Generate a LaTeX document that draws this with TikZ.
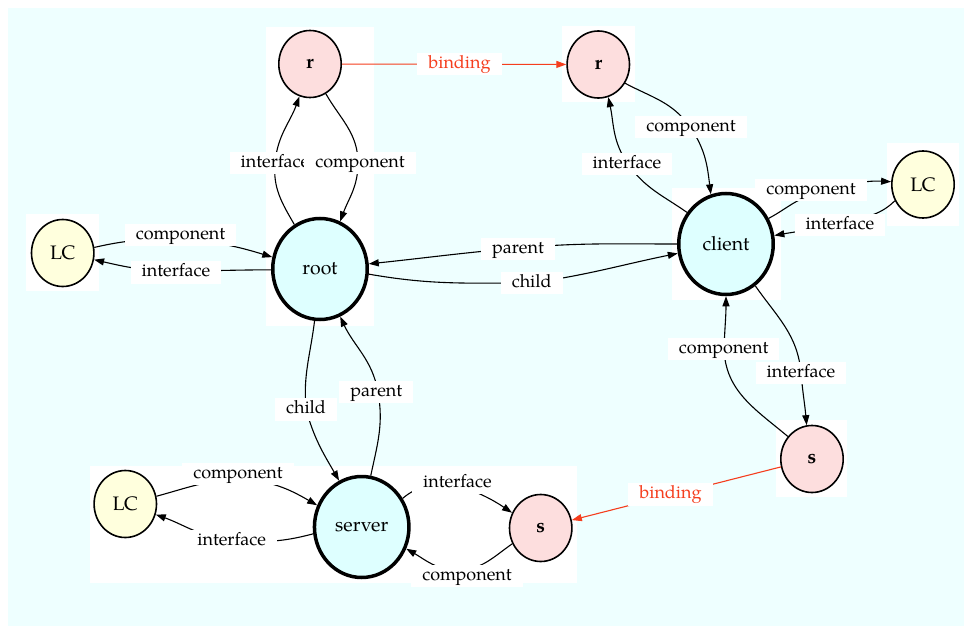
\documentclass[tikz,border=0pt]{standalone}
\usepackage{fontspec}
\setmainfont{TeX Gyre Pagella}
\usetikzlibrary{arrows.meta,shapes.geometric}

\definecolor{bgcyan}{RGB}{238,255,255}
\definecolor{hostfill}{RGB}{222,255,255}
\definecolor{portfill}{RGB}{253,222,222}
\definecolor{lcfill}{RGB}{255,255,221}
\definecolor{bindred}{RGB}{245,62,30}

\tikzset{
  port/.style={ellipse, draw, line width=1.6pt, fill=portfill, inner sep=0pt,
    minimum width=62.4pt, minimum height=67pt, font=\fontsize{19.5}{20}\selectfont\bfseries},
  lcnode/.style={ellipse, draw, line width=1.6pt, fill=lcfill, inner sep=0pt,
    minimum width=62.4pt, minimum height=67pt, font=\fontsize{19.5}{20}\selectfont},
  host/.style={ellipse, draw, line width=3.5pt, fill=hostfill, inner sep=0pt,
    minimum width=94.5pt, minimum height=101pt, font=\fontsize{19.5}{20}\selectfont},
  lbl/.style={fill=white, inner xsep=11pt, inner ysep=3.2pt, text height=12.5pt,
    text depth=4pt, font=\fontsize{18}{20}\selectfont},
  bindlbl/.style={lbl, text=bindred},
  edge/.style={line width=1.1pt, -{Triangle[length=10pt,width=7pt]}},
  bindedge/.style={edge, draw=bindred, -{Triangle[length=10pt,width=7pt,fill=bindred]}},
  group/.style={fill=white, draw=none}
}

\begin{document}
\begin{tikzpicture}[x=1pt,y=1pt]
  % canvas
  \useasboundingbox (0,0) rectangle (964,-626);
  \fill[bgcyan] (8,-8) rectangle (964,-626);

  % white cluster areas
  \fill[group] (266,-27) rectangle (374,-326);
  \fill[group] (562,-26) rectangle (635,-102);
  \fill[group] (672,-188) rectangle (781,-300);
  \fill[group] (887,-143) rectangle (959,-226);
  \fill[group] (26,-214) rectangle (99,-291);
  \fill[group] (90,-466) rectangle (577,-583);
  \fill[group] (776,-420) rectangle (847,-497);

  % components and ports
  \node[port]   (r1)     at (310,-64)    {r};
  \node[port]   (r2)     at (598.3,-64.5) {r};
  \node[host]   (root)   at (320,-269)   {root};
  \node[host]   (client) at (726,-244)   {client};
  \node[host]   (server) at (361.7,-527) {server};
  \node[lcnode] (lcl)    at (62.7,-253)  {LC};
  \node[lcnode] (lcr)    at (923,-184.5) {LC};
  \node[lcnode] (lcb)    at (125.3,-504) {LC};
  \node[port]   (sb)     at (540.7,-528) {s};
  \node[port]   (sr)     at (812,-459)   {s};

  % bindings
  \draw[bindedge] (r1) -- (r2);
  \draw[bindedge] (sr) -- (sb);

  % root <-> r
  \draw[edge] (root.120) to[out=120,in=-95] (275,-163) to[out=85,in=-110] (r1.252);
  \draw[edge] (r1.-62) to[out=-60,in=90] (358,-163) to[out=-90,in=70] (root.67);

  % root <-> LC
  \draw[edge] (lcl.10) to[out=13,in=178] (178,-240) to[out=-2,in=163] (root.166);
  \draw[edge] (root.181) to[out=180,in=0] (176,-271) to[out=180,in=-13] (lcl.-12);

  % root <-> client
  \draw[edge] (client.180) to[out=180,in=5] (518,-248) to[out=185,in=6] (root.6);
  \draw[edge] (root.-6) to[out=-10,in=180] (531,-283) to[out=8,in=-168.5] (client.191);

  % client <-> r
  \draw[edge] (client.141) to[out=145,in=-55] (628,-164) to[out=125,in=-78] (r2.-73);
  \draw[edge] (r2.-35) to[out=-28,in=125] (690,-127) to[out=-55,in=97] (client.107);

  % client <-> LC
  \draw[edge] (client.31) to[out=28,in=-165] (815,-194) to[out=15,in=177] (lcr.175.5);
  \draw[edge] (lcr.210) to[out=225,in=15] (840,-223) to[out=195,in=10] (client.10);

  % client <-> s
  \draw[edge] (client.-55) to[out=-55,in=95] (801,-373) to[out=-85,in=95] (sr.99);
  \draw[edge] (sr.137) to[out=140,in=-88] (724,-349) to[out=88,in=-90] (client.-90);

  % root <-> server
  \draw[edge] (root.-96) to[out=-97,in=95] (306,-409) to[out=-75,in=120] (server.116);
  \draw[edge] (server.80) to[out=78,in=-80] (378,-392) to[out=100,in=-65] (root.-67);

  % server <-> LC
  \draw[edge] (lcb.14) to[out=15,in=180] (238,-480) to[out=0,in=150] (server.154);
  \draw[edge] (server.188) to[out=195,in=-5] (232,-540) to[out=175,in=-20] (lcb.-19.5);

  % server <-> s
  \draw[edge] (server.35) to[out=40,in=180] (455,-484) to[out=-20,in=146] (sb.152);
  \draw[edge] (sb.209.5) to[out=215,in=0] (458,-570) to[out=180,in=-30] (server.-26);

  % edge labels
  \node[bindlbl] (bd1)  at (459.5,-64)  {binding};
  \node[bindlbl] (bd2)  at (670.5,-494.7) {binding};
  \node[lbl] (ir1)  at (275,-163)   {interface};
  \node[lbl] (cr1)  at (360,-163)   {component};
  \node[lbl] (clcl) at (180.5,-235) {component};
  \node[lbl] (ilcl) at (176,-272.5) {interface};
  \node[lbl] (par1) at (518,-249)   {parent};
  \node[lbl] (chi1) at (531.7,-283) {child};
  \node[lbl] (cr2)  at (691,-127)   {component};
  \node[lbl] (ir2)  at (627,-164)   {interface};
  \node[lbl] (clcr) at (811,-190)   {component};
  \node[lbl] (ilcr) at (840,-225)   {interface};
  \node[lbl] (csr)  at (723.7,-349) {component};
  \node[lbl] (isr)  at (801,-373)   {interface};
  \node[lbl] (chi2) at (306,-409.5) {child};
  \node[lbl] (par2) at (376.3,-392) {parent};
  \node[lbl] (clcb) at (238,-474)   {component};
  \node[lbl] (ilcb) at (231.7,-541) {interface};
  \node[lbl] (isb)  at (457.5,-483) {interface};
  \node[lbl] (csb)  at (467,-576)   {component};
\end{tikzpicture}
\end{document}
